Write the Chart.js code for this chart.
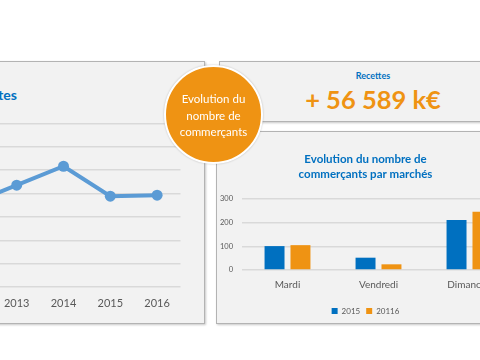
<!DOCTYPE html>
<html><head><meta charset="utf-8">
<script src="https://cdn.jsdelivr.net/npm/chart.js@4/dist/chart.umd.min.js"></script>
<style>
html,body{margin:0;padding:0;width:480px;height:360px;overflow:hidden;background:#fff;font-family:Lato,sans-serif;}
#wrap{position:relative;width:480px;height:360px;overflow:hidden;}
.box{position:absolute;background:#f2f2f2;border:1px solid #b3b3b3;box-shadow:1px 1px 2px rgba(0,0,0,0.22);box-sizing:border-box;}
#leftTitle{position:absolute;right:463px;top:86px;font:bold 14px Lato,sans-serif;color:#0070C0;white-space:nowrap;}
#kpiLabel{position:absolute;left:219px;width:308px;top:70px;text-align:center;font:bold 9px Lato,sans-serif;color:#0070C0;}
#kpiValue{position:absolute;left:219px;width:308px;top:84px;text-align:center;font:bold 25.5px Lato,sans-serif;color:#EF9313;white-space:nowrap;}
#circle{position:absolute;left:164px;top:65px;width:99px;height:99px;border-radius:50%;background:#EF9313;border:2px solid #fff;box-sizing:border-box;box-shadow:0 0 2px rgba(0,0,0,0.25);display:flex;align-items:center;justify-content:center;text-align:center;color:#fff;font:11.5px/16.5px Lato,sans-serif;padding-top:3px;}
.cv{position:absolute;}
</style></head>
<body><div id="wrap">
<div class="box" style="left:-10px;top:61px;width:215px;height:263px;"></div>
<div class="box" style="left:219px;top:61px;width:290px;height:61px;"></div>
<div class="box" style="left:216px;top:131px;width:290px;height:193px;"></div>
<div id="leftTitle">Recettes</div>
<div class="cv" style="left:-59px;top:118px;"><canvas id="c1" width="245" height="199"></canvas></div>
<div id="kpiLabel">Recettes</div>
<div id="kpiValue">+ 56 589 k€</div>
<div class="cv" style="left:216px;top:132px;"><canvas id="c2" width="304" height="193"></canvas></div>
<div id="circle"><div>Evolution du<br>nombre de<br>commerçants</div></div>
</div>
<script>
// Recettes (line chart)
const recYears = ['2012', '2013', '2014', '2015', '2016'];
const recValues = [35500, 43600, 51700, 38900, 39300];
const recMin = 0, recMax = 70000, recStep = 10000;

// Commerçants par marchés (bar chart)
const markets = ['Mardi', 'Vendredi', 'Dimanche'];
const seriesNames = ['2015', '20116'];
const values2015 = [101, 52, 211];
const values2016 = [105, 24, 246];
const barMin = 0, barMax = 300, barStep = 100;
const barTitle = ['Evolution du nombre de', 'commerçants par marchés'];

Chart.defaults.font.family = 'Lato, sans-serif';
Chart.defaults.color = '#595959';

new Chart(document.getElementById('c1'), {
  type: 'line',
  data: { labels: recYears, datasets: [{ data: recValues, borderColor: '#5B9BD5', backgroundColor: '#5B9BD5',
    borderWidth: 4, pointRadius: 5.5, pointHoverRadius: 5.5, pointBackgroundColor: '#5B9BD5', pointBorderWidth: 0, tension: 0 }] },
  options: {
    responsive: false, animation: false, devicePixelRatio: 1,
    layout: { padding: { top: 5, left: 0, right: 0, bottom: 0 } },
    plugins: { legend: { display: false }, tooltip: { enabled: false } },
    scales: {
      x: { offset: true, grid: { display: false }, border: { display: false },
        ticks: { font: { size: 11 }, color: '#595959', padding: 2 },
        afterFit: s => { s.height = 30; } },
      y: { min: recMin, max: recMax, ticks: { display: false, stepSize: recStep },
        grid: { color: '#d9d9d9', lineWidth: 1.5, drawTicks: false }, border: { display: false },
        afterFit: s => { s.width = 0; } }
    }
  }
});

new Chart(document.getElementById('c2'), {
  type: 'bar',
  data: { labels: markets, datasets: [
    { label: seriesNames[0], data: values2015, backgroundColor: '#0070C0' },
    { label: seriesNames[1], data: values2016, backgroundColor: '#EF9313' }
  ] },
  options: {
    responsive: false, animation: false, devicePixelRatio: 1,
    layout: { padding: { top: 0, left: 0, right: 5, bottom: 0 } },
    datasets: { bar: { categoryPercentage: 0.57, barPercentage: 0.77 } },
    plugins: {
      tooltip: { enabled: false },
      title: { display: true, text: barTitle, color: '#0070C0',
        font: { size: 11.5, weight: 'bold', lineHeight: '15px' }, padding: { top: 20, bottom: 17 } },
      legend: { position: 'bottom', labels: { boxWidth: 6, boxHeight: 6, font: { size: 8 }, color: '#595959', padding: 6 } }
    },
    scales: {
      x: { grid: { display: false }, border: { display: false },
        ticks: { font: { size: 10 }, color: '#595959', padding: 1 },
        afterFit: s => { s.height = 31; } },
      y: { min: barMin, max: barMax, ticks: { stepSize: barStep, font: { size: 7.5 }, color: '#595959', padding: 9 },
        grid: { color: '#d9d9d9', lineWidth: 1.5, drawTicks: false }, border: { display: false },
        afterFit: s => { s.width = 26; } }
    }
  }
});
</script>
</body></html>
